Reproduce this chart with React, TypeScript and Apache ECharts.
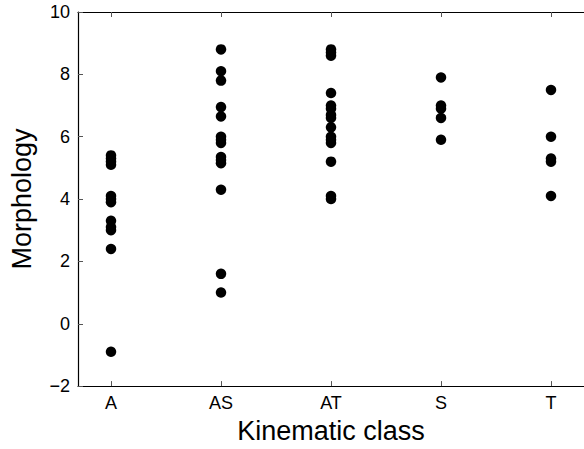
import React, { useEffect, useRef } from "react";
import * as echarts from "echarts";

const categories = ["A", "AS", "AT", "S", "T"];
const valuesA = [5.4, 5.3, 5.2, 5.1, 4.1, 4.0, 3.9, 3.3, 3.1, 3.0, 2.4, -0.9];
const valuesAS = [8.8, 8.1, 7.8, 6.95, 6.65, 6.0, 5.9, 5.8, 5.35, 5.25, 5.15, 4.3, 1.6, 1.0];
const valuesAT = [8.8, 8.7, 8.6, 7.4, 7.0, 6.9, 6.7, 6.6, 6.3, 6.0, 5.9, 5.8, 5.2, 4.1, 4.0];
const valuesS = [7.9, 7.0, 6.9, 6.6, 5.9];
const valuesT = [7.5, 6.0, 5.3, 5.2, 4.1];
const yTicks = [-2, 0, 2, 4, 6, 8, 10];

const groups = [valuesA, valuesAS, valuesAT, valuesS, valuesT];

const FONT = '"Liberation Sans", Arial, Helvetica, sans-serif';

export default function App() {
  const ref = useRef<HTMLDivElement>(null);
  useEffect(() => {
    if (!ref.current) return;
    const chart = echarts.init(ref.current, null, { renderer: "svg" });
    const data: number[][] = [];
    groups.forEach((g, i) => g.forEach((v) => data.push([i + 1, v])));
    const catPos = categories.map((_, i) => i + 1);
    const axisLine = { show: true, onZero: false, lineStyle: { color: "#000", width: 1.2 } };
    chart.setOption({
      animation: false,
      grid: { left: 76, top: 12, width: 513, bottom: 59, containLabel: false },
      xAxis: [
        {
          type: "value",
          min: 0.7,
          max: 5.3,
          position: "bottom",
          axisLine,
          splitLine: { show: false },
          axisTick: {
            show: true,
            inside: true,
            length: 5,
            customValues: catPos,
            lineStyle: { color: "#555" },
          },
          axisLabel: {
            show: true,
            customValues: catPos,
            formatter: (v: number) => categories[Math.round(v) - 1] ?? "",
            color: "#000",
            fontSize: 18,
            fontFamily: FONT,
            margin: 8,
          },
          name: "Kinematic class",
          nameLocation: "middle",
          nameGap: 29,
          nameTextStyle: { color: "#000", fontSize: 27, fontFamily: FONT },
        },
        {
          type: "value",
          min: 0.7,
          max: 5.3,
          position: "top",
          axisLine,
          splitLine: { show: false },
          axisTick: {
            show: true,
            inside: true,
            length: 5,
            customValues: catPos,
            lineStyle: { color: "#555" },
          },
          axisLabel: { show: false },
        },
      ],
      yAxis: [
        {
          type: "value",
          min: -2,
          max: 10,
          interval: 2,
          position: "left",
          axisLine,
          splitLine: { show: false },
          axisTick: { show: true, inside: true, length: 5, lineStyle: { color: "#555" } },
          axisLabel: {
            color: "#000",
            fontSize: 18,
            fontFamily: FONT,
            margin: 8,
            formatter: (v: number) => (yTicks.includes(v) ? String(v).replace("-", "\u2212") : ""),
          },
          name: "Morphology",
          nameLocation: "middle",
          nameGap: 43,
          nameRotate: 90,
          nameTextStyle: { color: "#000", fontSize: 27, fontFamily: FONT },
        },
      ],
      series: [
        {
          type: "scatter",
          xAxisIndex: 0,
          yAxisIndex: 0,
          data,
          symbol: "circle",
          symbolSize: 10.5,
          itemStyle: { color: "#000", opacity: 1 },
          clip: false,
        },
      ],
    });
    return () => chart.dispose();
  }, []);
  return (
    <div
      ref={ref}
      style={{ position: "fixed", left: 0, top: 0, width: 584, height: 449, background: "#fff" }}
    />
  );
}
